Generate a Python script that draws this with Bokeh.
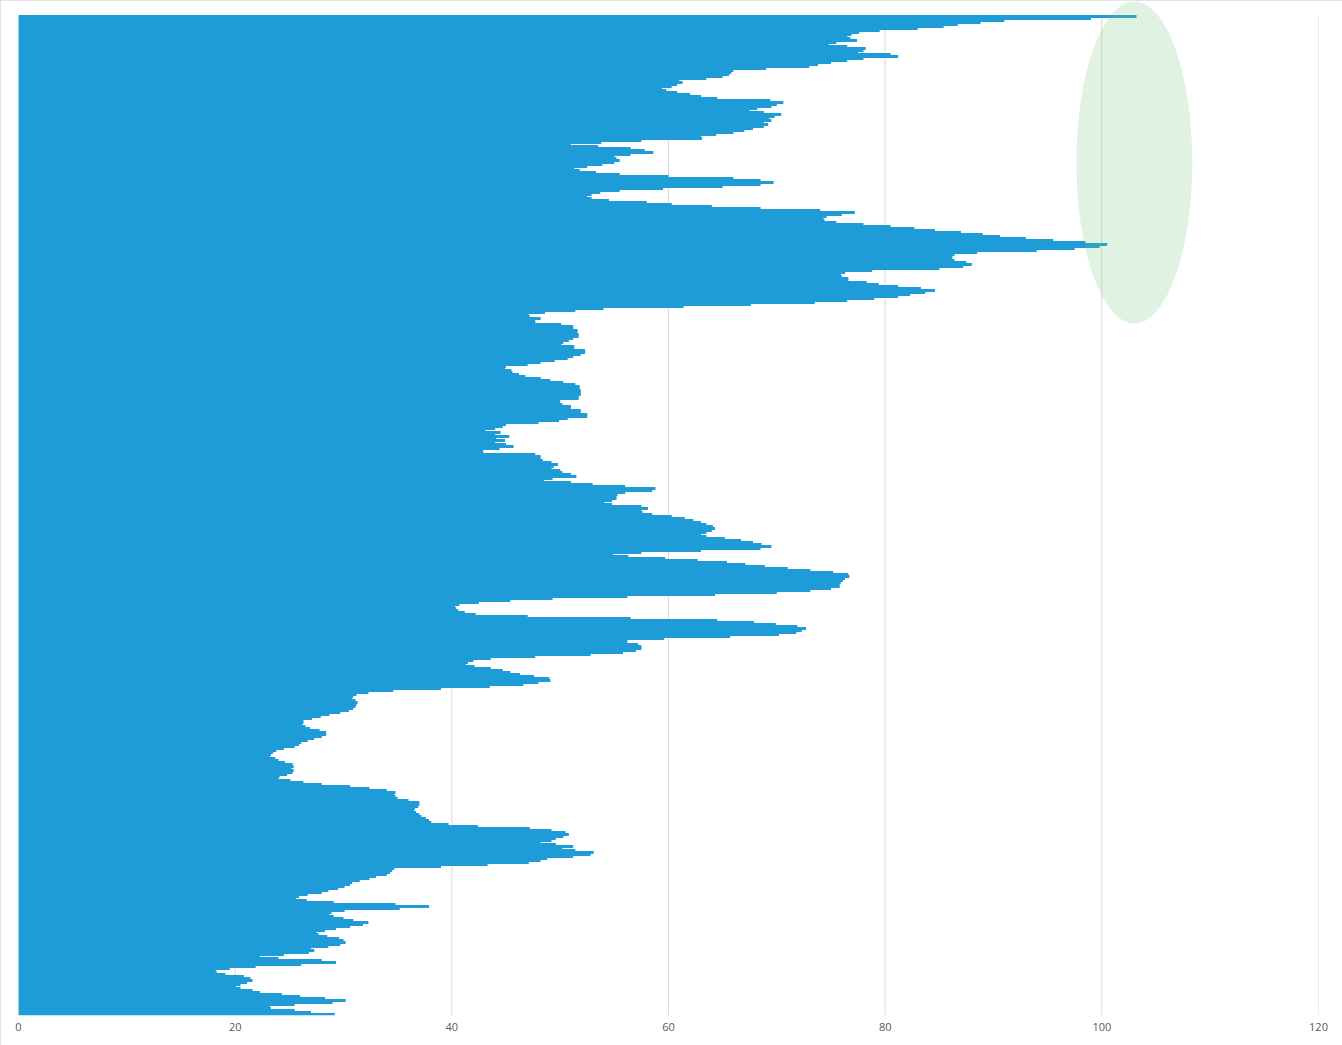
from bokeh.plotting import figure
from bokeh.models import Range1d, FixedTicker
from bokeh.embed import file_html
from bokeh.resources import INLINE

# one value per horizontal bar, top to bottom
values = [
    103.2, 99.0, 91.0, 88.8, 86.7, 85.4, 83.0, 79.5, 77.6, 76.9,
    76.5, 76.8, 77.4, 75.5, 74.8, 76.5, 78.2, 78.0, 77.5, 80.5,
    81.2, 78.0, 76.5, 75.0, 73.8, 73.0, 69.0, 66.0, 65.8, 65.6,
    65.0, 63.5, 61.0, 61.3, 60.8, 60.3, 59.4, 59.8, 60.8, 62.0,
    63.0, 64.5, 69.4, 70.6, 70.0, 69.5, 68.2, 67.5, 68.8, 70.4,
    69.8, 69.3, 69.5, 68.8, 69.2, 68.8, 67.8, 67.0, 66.0, 64.4,
    63.0, 63.1, 57.5, 53.8, 51.0, 53.5, 56.5, 57.8, 58.6, 56.5,
    55.0, 55.2, 55.5, 55.0, 53.9, 52.5, 51.3, 51.8, 53.3, 55.5,
    60.0, 66.0, 68.5, 69.7, 68.5, 65.0, 59.5, 55.5, 53.7, 52.9,
    52.5, 52.9, 54.5, 58.0, 60.3, 64.0, 68.5, 74.0, 77.2, 76.0,
    74.6, 74.3, 74.4, 75.5, 78.0, 80.5, 82.7, 84.6, 87.0, 89.0,
    90.6, 93.0, 95.5, 98.5, 100.5, 99.8, 97.5, 94.0, 88.5, 86.4,
    86.2, 86.2, 86.4, 87.5, 88.0, 87.2, 85.0, 78.8, 76.3, 75.9,
    76.0, 76.6, 76.6, 78.3, 79.4, 81.2, 83.3, 84.6, 83.7, 82.3,
    81.2, 79.0, 76.5, 73.5, 67.6, 61.4, 54.0, 51.4, 48.6, 47.1,
    47.2, 48.2, 47.7, 47.7, 50.1, 51.2, 51.2, 51.6, 51.6, 51.7,
    51.7, 51.2, 50.8, 50.3, 50.1, 51.3, 51.3, 52.3, 52.3, 51.9,
    51.2, 50.7, 49.5, 48.2, 47.0, 45.0, 44.9, 45.5, 45.6, 46.2,
    46.8, 48.2, 49.1, 50.3, 51.4, 51.8, 51.8, 51.9, 51.9, 51.9,
    51.7, 51.7, 50.0, 50.0, 50.2, 51.0, 51.0, 51.9, 51.9, 52.5,
    52.5, 50.7, 49.9, 48.0, 45.0, 44.7, 44.0, 43.1, 44.5, 44.0,
    45.3, 44.1, 44.9, 44.0, 45.0, 45.7, 44.4, 42.9, 42.9, 47.7,
    48.2, 48.2, 48.4, 49.2, 49.8, 49.4, 49.2, 50.0, 50.2, 51.0,
    51.5, 49.3, 48.5, 51.0, 53.0, 56.0, 58.8, 58.5, 56.0, 55.3,
    55.2, 55.2, 54.8, 54.1, 54.8, 57.5, 58.1, 57.5, 57.6, 58.5,
    60.3, 61.5, 62.3, 63.0, 63.5, 64.1, 64.3, 64.0, 63.5, 63.0,
    63.5, 65.2, 66.7, 67.8, 68.6, 69.5, 68.5, 63.0, 57.5, 54.9,
    56.3, 59.7, 62.7, 65.4, 67.1, 68.9, 71.0, 73.1, 75.2, 76.6,
    76.7, 76.3, 76.1, 75.9, 75.8, 75.8, 75.0, 73.1, 70.0, 64.3,
    56.2, 49.3, 45.4, 42.5, 40.7, 40.3, 40.4, 40.6, 41.2, 42.2,
    47.0, 56.5, 64.5, 67.9, 69.9, 71.9, 72.7, 72.3, 71.8, 70.2,
    65.7, 59.6, 56.2, 56.2, 57.2, 57.5, 57.5, 57.0, 55.8, 52.8,
    47.7, 43.6, 42.0, 41.5, 41.3, 42.1, 43.6, 44.7, 45.4, 46.3,
    47.6, 49.0, 49.1, 48.0, 46.6, 43.5, 39.0, 34.6, 32.3, 31.2,
    30.9, 30.8, 31.1, 31.3, 31.2, 31.1, 30.9, 30.5, 29.7, 28.7,
    27.9, 27.1, 26.3, 26.3, 26.2, 26.5, 26.9, 27.8, 28.4, 28.4,
    28.0, 27.3, 26.7, 26.1, 25.9, 25.5, 24.5, 23.8, 23.5, 23.3,
    23.2, 23.7, 24.0, 24.6, 25.3, 25.4, 25.2, 25.4, 25.3, 24.8,
    24.1, 24.0, 25.1, 26.3, 28.0, 30.6, 32.4, 34.0, 34.8, 34.7,
    34.8, 35.0, 36.0, 37.0, 37.0, 36.9, 36.6, 36.5, 36.7, 37.0,
    37.2, 37.6, 37.9, 38.1, 39.7, 42.4, 47.2, 49.2, 50.5, 50.8,
    50.3, 49.6, 49.2, 48.2, 49.6, 51.2, 50.2, 51.4, 53.1, 52.8,
    51.2, 48.8, 48.2, 47.1, 43.3, 39.0, 34.7, 34.5, 34.3, 34.0,
    33.0, 32.4, 31.5, 30.8, 30.6, 30.1, 29.5, 28.6, 28.0, 26.7,
    25.9, 25.6, 26.6, 29.1, 34.8, 37.9, 35.2, 30.1, 28.9, 28.7,
    29.1, 30.0, 30.9, 32.3, 31.8, 30.6, 29.3, 28.3, 27.5, 27.7,
    28.5, 29.6, 30.0, 30.2, 29.7, 28.6, 27.0, 27.3, 26.8, 24.5,
    22.3, 24.0, 28.0, 29.3, 26.1, 21.9, 19.5, 18.2, 18.3, 19.1,
    20.8, 21.4, 21.6, 21.1, 20.5, 20.1, 20.5, 21.6, 22.3, 24.3,
    26.0, 28.3, 30.2, 29.0, 25.5, 23.2, 23.3, 25.5, 27.0, 29.2,
]
rows = list(range(len(values)))
ticks = [0, 20, 40, 60, 80, 100, 120]

# highlight ellipse (data units)
HL_X = 103.0
HL_Y = 73.0
HL_W = 10.7
HL_H = 161.0

BLUE = "#1E9CD7"
GRID = "#D9D9D9"

n = len(values)
p = figure(width=1342, height=1045, output_backend="svg", toolbar_location=None,
           x_range=Range1d(0, 120), y_range=Range1d(n - 0.5, -7.5),
           min_border_left=18, min_border_right=24, min_border_top=1,
           min_border_bottom=30,
           styles={"outline": "1px solid #d9d9d9", "outline-offset": "-1px"})
p.background_fill_color = "white"
p.border_fill_color = "white"
p.outline_line_color = None
p.xgrid.visible = False
p.ygrid.visible = False
p.yaxis.visible = False

p.segment(x0=ticks, y0=[-0.5] * len(ticks), x1=ticks, y1=[n - 0.5] * len(ticks),
          line_color=GRID, line_width=1)

p.hbar(y=rows, left=0, right=values, height=1.5, fill_color=BLUE,
       line_color=None)

p.ellipse(x=[HL_X], y=[HL_Y], width=[HL_W], height=[HL_H],
          fill_color="#74C476", fill_alpha=0.22, line_color=None)

ax = p.xaxis[0]
ax.ticker = FixedTicker(ticks=ticks)
ax.axis_line_color = None
ax.major_tick_line_color = None
ax.minor_tick_line_color = None
ax.major_tick_in = 0
ax.major_tick_out = 0
ax.minor_tick_in = 0
ax.minor_tick_out = 0
ax.major_label_standoff = 7
ax.major_label_text_font = "Open Sans"
ax.major_label_text_font_size = "11px"
ax.major_label_text_color = "#595959"

open("out.html", "w").write(file_html(p, INLINE))
